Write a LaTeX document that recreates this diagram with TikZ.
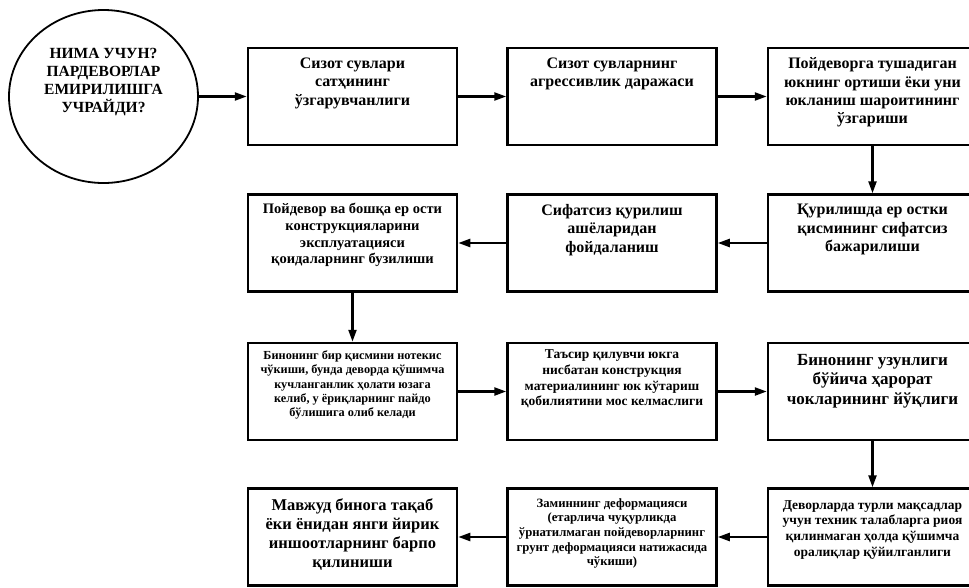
\documentclass[tikz,border=0pt]{standalone}
\usepackage{fontspec}
\setmainfont{Liberation Serif}
\usetikzlibrary{shapes.geometric, arrows.meta}

\newcommand{\fsz}[2]{\fontsize{#1}{#2}\selectfont\bfseries}

\begin{document}
\begin{tikzpicture}[x=10pt, y=-10pt, >={Triangle[length=12pt, width=8pt]}]
    \tikzstyle{block}=[draw, line width=2.5pt, minimum width=209pt, minimum height=97pt]
    \tikzstyle{inside}=[anchor=north, inner sep=0pt, align=center]
    \tikzstyle{link}=[->, line width=2.3pt]

    \useasboundingbox (0, 0) rectangle (96.9, 58.7);

    % Question
    \node[draw, ellipse, line width=1.8pt, minimum width=189pt, minimum height=173pt,
        label={[inside, yshift=-39pt, font=\fsz{15.5}{18}]north:{НИМА УЧУН?\\ПАРДЕВОРЛАР\\ЕМИРИЛИШГА\\УЧРАЙДИ?}}] (q) at (10.35, 9.65) {};

    % Row 1
    \node[block, label={[inside, yshift=-11pt, font=\fsz{16}{18.3}]north:{Сизот сувлари\\сатҳининг\\ўзгарувчанлиги}}] (level) at (35.25, 9.65) {};
    \node[block, label={[inside, yshift=-11pt, font=\fsz{16}{18.3}]north:{Сизот сувларнинг\\агрессивлик даражаси}}] (aggr) at (61.2, 9.65) {};
    \node[block, label={[inside, yshift=-11pt, font=\fsz{16}{18.3}]north:{Пойдеворга тушадиган\\юкнинг ортиши ёки уни\\юкланиш шароитининг\\ўзгариши}}] (load) at (87.25, 9.65) {};

    % Row 2
    \node[block, label={[inside, yshift=-11pt, font=\fsz{16}{18.3}]north:{Қурилишда ер остки\\қисмининг сифатсиз\\бажарилиши}}] (under) at (87.25, 24.3) {};
    \node[block, label={[inside, yshift=-11pt, font=\fsz{16}{18.3}]north:{Сифатсиз қурилиш\\ашёларидан\\фойдаланиш}}] (mat) at (61.2, 24.3) {};
    \node[block, label={[inside, yshift=-10pt, font=\fsz{14.5}{16.7}]north:{Пойдевор ва бошқа ер ости\\конструкцияларини\\эксплуатацияси\\қоидаларнинг бузилиши}}] (rules) at (35.25, 24.3) {};

    % Row 3
    \node[block, label={[inside, yshift=-9pt, font=\fsz{12.3}{14.2}]north:{Бинонинг бир қисмини нотекис\\чўкиши, бунда деворда қўшимча\\кучланганлик ҳолати юзага\\келиб, у ёриқларнинг пайдо\\бўлишига олиб келади}}] (settle) at (35.25, 39.15) {};
    \node[block, label={[inside, yshift=-8pt, font=\fsz{13.5}{15.7}]north:{Таъсир қилувчи юкга\\нисбатан конструкция\\материалининг юк кўтариш\\қобилиятини мос келмаслиги}}] (cap) at (61.2, 39.15) {};
    \node[block, label={[inside, yshift=-12pt, font=\fsz{17}{19.5}]north:{Бинонинг узунлиги\\бўйича ҳарорат\\чокларининг йўқлиги}}] (joint) at (87.25, 39.15) {};

    % Row 4
    \node[block, label={[inside, yshift=-13pt, font=\fsz{13.5}{15.7}]north:{Деворларда турли мақсадлар\\учун техник талабларга риоя\\қилинмаган ҳолда қўшимча\\оралиқлар қўйилганлиги}}] (gaps) at (87.25, 53.7) {};
    \node[block, label={[inside, yshift=-11pt, font=\fsz{12.7}{14.6}]north:{Заминнинг деформацияси\\(етарлича чуқурликда\\ўрнатилмаган пойдеворларнинг\\грунт деформацияси натижасида\\чўкиши)}}] (base) at (61.2, 53.7) {};
    \node[block, label={[inside, yshift=-11pt, font=\fsz{16.5}{19}]north:{Мавжуд бинога тақаб\\ёки ёнидан янги йирик\\иншоотларнинг барпо\\қилиниши}}] (newb) at (35.25, 53.7) {};

    % Connections
    \draw[link] (q) -- (level);
    \draw[link] (level) -- (aggr);
    \draw[link] (aggr) -- (load);
    \draw[link] (load) -- (under);
    \draw[link] (under) -- (mat);
    \draw[link] (mat) -- (rules);
    \draw[link] (rules) -- (settle);
    \draw[link] (settle) -- (cap);
    \draw[link] (cap) -- (joint);
    \draw[link] (joint) -- (gaps);
    \draw[link] (gaps) -- (base);
    \draw[link] (base) -- (newb);
\end{tikzpicture}
\end{document}
